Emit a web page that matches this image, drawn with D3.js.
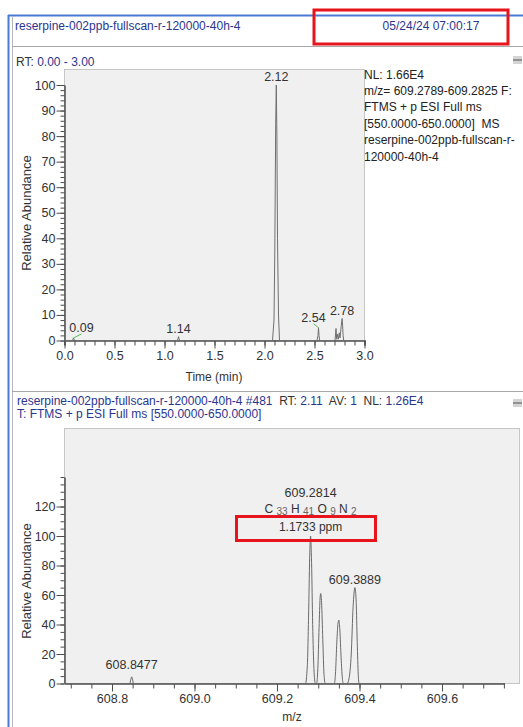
<!DOCTYPE html>
<html>
<head>
<meta charset="utf-8">
<script src="https://cdn.jsdelivr.net/npm/d3@7"></script>
<style>
body { margin: 0; background: #fff; }
svg { display: block; font-family: "Liberation Sans", Arial, sans-serif; }
</style>
</head>
<body>
<svg id="chart" width="523" height="727"></svg>
<script>
// chromatogram trace: retention time (min) and relative abundance (%)
var rtTime  = [0.00, 0.080, 0.090, 0.100, 1.130, 1.140, 1.150, 2.080, 2.095, 2.103, 2.112, 2.118, 2.124, 2.130, 2.140, 2.150,
               2.525, 2.535, 2.540, 2.545, 2.552, 2.705, 2.715, 2.722, 2.730, 2.738, 2.748, 2.755, 2.768, 2.776, 2.781, 2.786, 2.792, 3.00];
var rtAbund = [0, 0, 1.0, 0, 0, 1.5, 0, 0, 8, 35, 85, 100, 80, 40, 10, 0,
               0, 2, 5, 2, 0, 0, 4.7, 0.5, 2.5, 0.5, 3, 1, 6, 8.6, 6, 2, 0, 0];
var rtLabelAt   = [0.090, 1.140, 2.118, 2.540, 2.776];
var rtLabelText = ["0.09", "1.14", "2.12", "2.54", "2.78"];

// mass spectrum profile: m/z and relative abundance (%)
var mzValue = [608.686, 608.843, 608.8455, 608.8477, 608.850, 608.852,
               609.269, 609.2735, 609.2765, 609.2792, 609.2814, 609.2838, 609.2865, 609.2895, 609.293,
               609.296, 609.299, 609.302, 609.3045, 609.306, 609.308, 609.311, 609.314, 609.317,
               609.339, 609.342, 609.345, 609.348, 609.350, 609.352, 609.355, 609.358, 609.361,
               609.370, 609.375, 609.380, 609.3845, 609.3889, 609.392, 609.3945, 609.397, 609.399,
               609.752];
var mzAbund = [0, 0, 2.5, 4.5, 2.5, 0,
               0, 12, 45, 85, 100, 82, 40, 10, 0,
               0, 10, 38, 58, 61, 55, 30, 6, 0,
               0, 8, 28, 41, 43, 38, 20, 5, 0,
               0, 4, 20, 52, 65, 55, 28, 6, 0,
               0];
var mzLabelAt   = [608.8477, 609.2814, 609.3889];
var mzLabelText = ["608.8477", "609.2814", "609.3889"];

var rtTicks = [0.0, 0.5, 1.0, 1.5, 2.0, 2.5, 3.0];
var rtYTicks = [0, 10, 20, 30, 40, 50, 60, 70, 80, 90, 100];
var mzTicks = [608.8, 609.0, 609.2, 609.4, 609.6];
var mzYTicks = [0, 20, 40, 60, 80, 100, 120];

var blue = "#2a3590", ink = "#333";
var svg = d3.select("#chart");

// window frame
svg.append("rect").attr("width", 523).attr("height", 727).attr("fill", "#fff");
svg.append("line").attr("x1", 8.5).attr("x2", 8.5).attr("y1", 15).attr("y2", 727)
    .attr("stroke", "#4a7bd4").attr("stroke-width", 2);
svg.append("line").attr("x1", 8).attr("x2", 523).attr("y1", 15.5).attr("y2", 15.5)
    .attr("stroke", "#4a7bd4").attr("stroke-width", 2);
svg.append("line").attr("x1", 12.5).attr("x2", 12.5).attr("y1", 17).attr("y2", 727)
    .attr("stroke", "#b5b5b5");
[46.5, 391.5].forEach(function(y) {
    svg.append("line").attr("x1", 12).attr("x2", 523).attr("y1", y).attr("y2", y)
        .attr("stroke", "#a8a8a8");
});

// pin icons
[56, 399].forEach(function(y) {
    svg.append("rect").attr("x", 513).attr("y", y).attr("width", 9).attr("height", 8).attr("fill", "#d4d4d4");
    svg.append("line").attr("x1", 513).attr("x2", 522).attr("y1", y + 4).attr("y2", y + 4)
        .attr("stroke", "#666").attr("stroke-width", 1.2);
});

svg.append("text").attr("x", 15).attr("y", 29.5).attr("font-size", 12).attr("fill", blue)
    .text("reserpine-002ppb-fullscan-r-120000-40h-4");
svg.append("text").attr("x", 431).attr("y", 29.5).attr("font-size", 12).attr("fill", blue)
    .attr("text-anchor", "middle").text("05/24/24 07:00:17");

var rtHead = svg.append("text").attr("x", 16).attr("y", 65.5).attr("font-size", 12);
rtHead.append("tspan").attr("fill", ink).text("RT: ");
rtHead.append("tspan").attr("fill", blue).text("0.00 - 3.00");

// ---------- chromatogram ----------
var x1 = d3.scaleLinear().domain([0, 3]).range([64.5, 364.5]);
var y1 = d3.scaleLinear().domain([0, 100]).range([340.5, 85]);

svg.append("rect").attr("x", 64.5).attr("y", 69.5).attr("width", 300).attr("height", 271)
    .attr("fill", "#f0f0f0").attr("stroke", "#c6c6c6");

function styleAxis(g) {
    g.selectAll("path, line").attr("stroke", "#4d4d4d");
    g.selectAll("text").attr("fill", ink).attr("font-size", 12.5).attr("font-family", "Liberation Sans, Arial, sans-serif");
}

svg.append("g").attr("transform", "translate(0,340.5)")
    .call(d3.axisBottom(x1).tickValues(d3.range(0, 31).map(function(i) { return i / 10; }))
        .tickSize(5).tickFormat(""))
    .call(styleAxis).select(".domain").attr("stroke-width", 1.5);
svg.append("g").attr("transform", "translate(0,340.5)")
    .call(d3.axisBottom(x1).tickValues(rtTicks).tickSize(8).tickPadding(3).tickFormat(d3.format(".1f")))
    .call(styleAxis).select(".domain").remove();

svg.append("g").attr("transform", "translate(64.5,0)")
    .call(d3.axisLeft(y1).tickValues(d3.range(0, 51).map(function(i) { return i * 2; }))
        .tickSize(4).tickFormat("").tickSizeOuter(0))
    .call(styleAxis).select(".domain").attr("stroke-width", 1.5);
svg.append("g").attr("transform", "translate(64.5,0)")
    .call(d3.axisLeft(y1).tickValues(rtYTicks).tickSize(8).tickPadding(1))
    .call(styleAxis).select(".domain").remove();

var rtPts = rtTime.map(function(t, i) { return [t, rtAbund[i]]; });
svg.append("path").datum(rtPts)
    .attr("d", d3.line().x(function(d) { return x1(d[0]); }).y(function(d) { return y1(d[1]); }))
    .attr("fill", "none").attr("stroke", "#6f6f6f").attr("stroke-width", 1);

var rtShift = [8, 0, 0, -5, 0];
rtLabelAt.forEach(function(t, i) {
    var k = d3.minIndex(rtTime, function(v) { return Math.abs(v - t); });
    var px = x1(t), py = y1(rtAbund[k]);
    if (rtShift[i] !== 0) {
        svg.append("line").attr("x1", px).attr("y1", py)
            .attr("x2", px + rtShift[i]).attr("y2", py - 4)
            .attr("stroke", "#5bbf5b");
    }
    svg.append("text").attr("x", px + rtShift[i]).attr("y", py - 4 - (rtShift[i] !== 0 ? 2 : 0))
        .attr("text-anchor", "middle").attr("font-size", 12.5).attr("fill", ink).text(rtLabelText[i]);
});

svg.append("text").attr("x", 214).attr("y", 381).attr("text-anchor", "middle")
    .attr("font-size", 12).attr("fill", ink).text("Time (min)");
svg.append("text").attr("transform", "translate(31,213) rotate(-90)").attr("text-anchor", "middle")
    .attr("font-size", 13).attr("fill", ink).text("Relative Abundance");

var info = ["NL: 1.66E4", "m/z= 609.2789-609.2825 F:", "FTMS + p ESI Full ms",
            "[550.0000-650.0000]  MS", "reserpine-002ppb-fullscan-r-", "120000-40h-4"];
svg.append("text").attr("x", 364).attr("y", 78.5).attr("font-size", 12).attr("fill", "#222")
    .style("white-space", "pre")
    .selectAll("tspan").data(info).enter().append("tspan")
    .attr("x", 364).attr("dy", function(d, i) { return i === 0 ? 0 : 16.4; }).text(function(d) { return d; });

// ---------- mass spectrum ----------
var sh1 = svg.append("text").attr("x", 17).attr("y", 404.5).attr("font-size", 12).style("white-space", "pre");
sh1.append("tspan").attr("fill", blue).text("reserpine-002ppb-fullscan-r-120000-40h-4 #481  ");
sh1.append("tspan").attr("fill", ink).text("RT: ");
sh1.append("tspan").attr("fill", blue).text("2.11  ");
sh1.append("tspan").attr("fill", ink).text("AV: ");
sh1.append("tspan").attr("fill", blue).text("1  ");
sh1.append("tspan").attr("fill", ink).text("NL: ");
sh1.append("tspan").attr("fill", blue).text("1.26E4");
svg.append("text").attr("x", 17).attr("y", 418).attr("font-size", 12).attr("fill", blue)
    .text("T: FTMS + p ESI Full ms [550.0000-650.0000]");

var x2 = d3.scaleLinear().domain([608.8, 609.6]).range([112, 442]);
x2.domain([x2.invert(64.5), x2.invert(504.5)]).range([64.5, 504.5]);
var y2 = d3.scaleLinear().domain([0, 100]).range([683.5, 536]);

svg.append("rect").attr("x", 64.5).attr("y", 428.5).attr("width", 455).attr("height", 255)
    .attr("fill", "#f0f0f0").attr("stroke", "#c6c6c6");

svg.append("g").attr("transform", "translate(0,683.5)")
    .call(d3.axisBottom(x2).tickValues(d3.range(0, 22).map(function(i) { return 608.70 + i * 0.05; }))
        .tickSize(5).tickFormat("").tickSizeOuter(0))
    .call(styleAxis).select(".domain").attr("stroke-width", 1.5);
svg.append("g").attr("transform", "translate(0,683.5)")
    .call(d3.axisBottom(x2).tickValues(mzTicks).tickSize(8).tickPadding(3).tickFormat(d3.format(".1f")))
    .call(styleAxis).select(".domain").remove();

var y2ax = y2.copy().domain([0, 140]).range([683.5, y2(140)]);
svg.append("g").attr("transform", "translate(64.5,0)")
    .call(d3.axisLeft(y2ax).tickValues(d3.range(0, 29).map(function(i) { return i * 5; }))
        .tickSize(4).tickFormat("").tickSizeOuter(0))
    .call(styleAxis).select(".domain").attr("stroke-width", 1.5);
svg.append("g").attr("transform", "translate(64.5,0)")
    .call(d3.axisLeft(y2).tickValues(mzYTicks).tickSize(8).tickPadding(1))
    .call(styleAxis).select(".domain").remove();

var mzPts = mzValue.map(function(m, i) { return [m, mzAbund[i]]; });
svg.append("path").datum(mzPts)
    .attr("d", d3.line().curve(d3.curveMonotoneX).x(function(d) { return x2(d[0]); }).y(function(d) { return y2(d[1]); }))
    .attr("fill", "none").attr("stroke", "#6a6a6a").attr("stroke-width", 1);

var mzLift = [8, 5, 4];
mzLabelAt.forEach(function(m, i) {
    var k = d3.minIndex(mzValue, function(v) { return Math.abs(v - m); });
    var px = x2(m), py = y2(mzAbund[k]);
    if (i === 1) {
        // composition annotation stacked above the base peak
        svg.append("text").attr("x", px).attr("y", py - mzLift[i]).attr("text-anchor", "middle")
            .attr("font-size", 12).attr("fill", ink).text("1.1733 ppm");
        var f = svg.append("text").attr("x", px).attr("y", py - mzLift[i] - 18).attr("text-anchor", "middle")
            .attr("font-size", 12).attr("fill", ink).style("white-space", "pre");
        [["C", "33"], ["H", "41"], ["O", "9"], ["N", "2"]].forEach(function(p, j) {
            f.append("tspan").attr("dy", j ? -1.5 : 0).text((j ? " " : "") + p[0] + " ");
            f.append("tspan").attr("font-size", 10).attr("fill", "#666").attr("dy", 1.5).text(p[1]);
        });
        svg.append("text").attr("x", px).attr("y", py - mzLift[i] - 34).attr("text-anchor", "middle")
            .attr("font-size", 12.5).attr("fill", ink).text(mzLabelText[i]);
    } else {
        svg.append("text").attr("x", px).attr("y", py - mzLift[i]).attr("text-anchor", "middle")
            .attr("font-size", 12.5).attr("fill", ink).text(mzLabelText[i]);
    }
});

svg.append("text").attr("x", 292).attr("y", 721).attr("text-anchor", "middle")
    .attr("font-size", 12).attr("fill", ink).text("m/z");
svg.append("text").attr("transform", "translate(31,581) rotate(-90)").attr("text-anchor", "middle")
    .attr("font-size", 13).attr("fill", ink).text("Relative Abundance");

// highlight boxes
svg.append("rect").attr("x", 314).attr("y", 10).attr("width", 194).attr("height", 34)
    .attr("fill", "none").attr("stroke", "#e8141c").attr("stroke-width", 3);
svg.append("rect").attr("x", 236.5).attr("y", 516.5).attr("width", 139).attr("height", 24)
    .attr("fill", "none").attr("stroke", "#e8141c").attr("stroke-width", 3);
</script>
</body>
</html>
